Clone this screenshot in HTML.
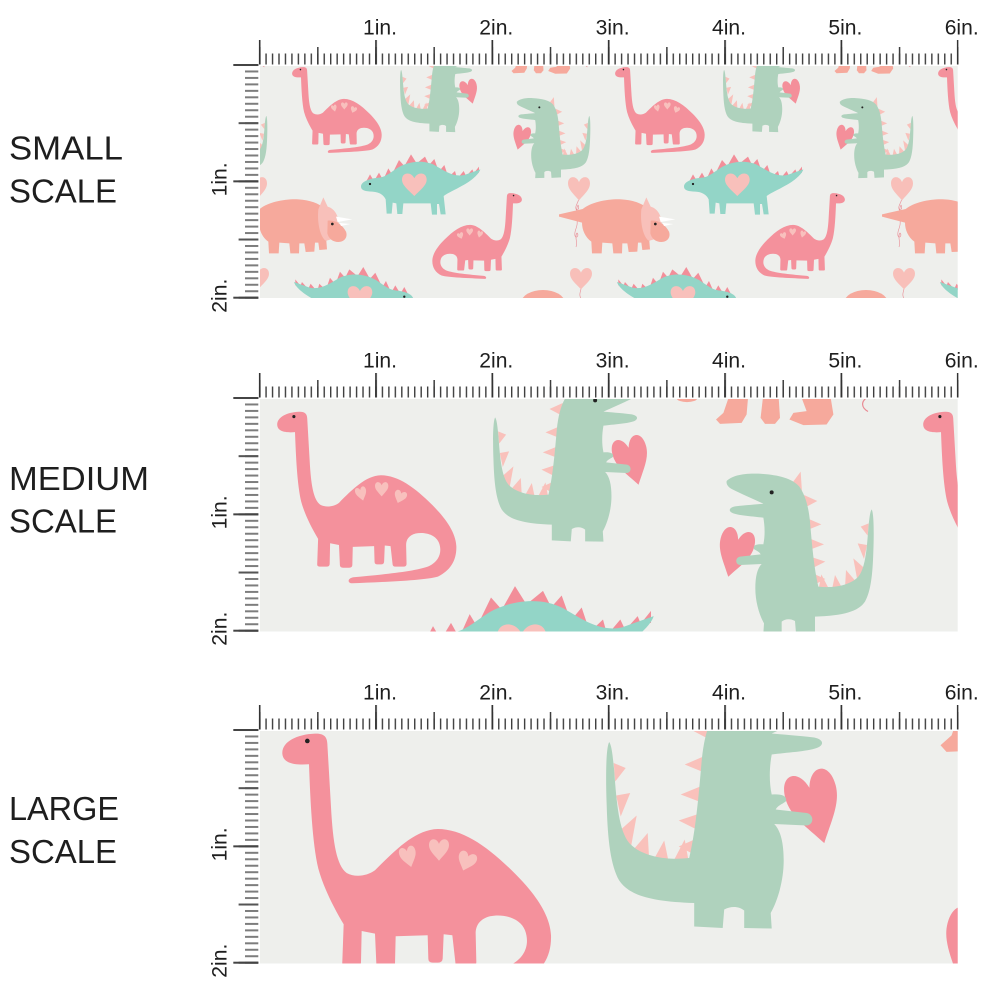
<!DOCTYPE html>
<html><head><meta charset="utf-8">
<style>
html,body{margin:0;padding:0;background:#fff;width:1000px;height:1000px;overflow:hidden;}
svg{display:block;}
text{font-family:"Liberation Sans",Arial,sans-serif;fill:#1e1e1e;}
</style></head>
<body>
<svg width="1000" height="1000" viewBox="0 0 1000 1000" xmlns="http://www.w3.org/2000/svg" overflow="hidden">
<defs>
  <path id="hp" d="M0,-0.45 C-0.25,-1 -1,-0.95 -1,-0.35 C-1,0.1 -0.5,0.45 0,0.95 C0.5,0.45 1,0.1 1,-0.35 C1,-0.95 0.25,-1 0,-0.45Z"/>

  <g id="bronto">
    <g transform="translate(283,56) scale(0.111111)">
      <path fill="#f4919c" d="M82,160 C80,125 125,102 180,100 C205,99 216,108 217,130 L228,320 C234,430 245,495 275,518 C300,532 335,528 360,510 C420,450 480,388 548,386 C625,386 700,440 780,520 C835,575 885,640 888,705 C890,770 860,815 805,842 C740,860 560,866 420,872 C398,873 396,850 425,845 C560,832 700,820 765,795 C812,772 825,730 810,690 C795,652 745,640 705,648 C675,656 662,675 662,700 L664,785 Q664,797 650,797 L614,797 Q601,797 601,785 L592,705 L566,702 L563,775 Q562,787 549,787 L533,787 Q520,787 520,775 L518,705 L422,708 L420,790 Q420,802 406,802 L378,802 Q364,802 364,790 L360,700 L320,692 L318,785 Q318,797 304,797 L274,797 Q260,797 262,783 L266,672 C235,620 205,560 190,505 C172,430 166,300 162,192 C120,195 84,190 82,160Z"/>
      <use href="#hp" fill="#f8c0bd" transform="translate(460,468) rotate(-15) scale(25,35)"/>
      <use href="#hp" fill="#f8c0bd" transform="translate(552,447) scale(30,36)"/>
      <use href="#hp" fill="#f8c0bd" transform="translate(635,482) rotate(20) scale(28,32)"/>
      <circle cx="157" cy="122" r="7" fill="#222"/>
    </g>
  </g>

  <g id="trexheart">
    <g transform="translate(453.5,58.75) scale(0.166667)">
      <use href="#hp" fill="#f48f9a" transform="translate(405,470) rotate(15) scale(52,82)"/>
    </g>
  </g>

  <g id="trex">
    <g transform="translate(453.5,58.75) scale(0.166667)">
      <use href="#hp" fill="#f48f9a" transform="translate(405,470) rotate(15) scale(52,82)"/>
      <g fill="#f9c1bb">
        <path d="M578,262 L602,230 L606,292Z"/>
        <path d="M612,300 L652,318 L618,336Z"/>
        <path d="M622,370 L664,388 L625,404Z"/>
        <path d="M628,430 L672,448 L630,464Z"/>
        <path d="M634,486 L676,500 L636,520Z"/>
        <path d="M640,536 L676,552 L645,568Z"/>
        <path d="M655,588 L664,538 L690,588Z"/>
        <path d="M695,588 L705,540 L728,582Z"/>
        <path d="M735,580 L738,525 L770,562Z"/>
        <path d="M772,556 L760,490 L796,522Z"/>
        <path d="M792,492 L773,445 L801,450Z"/>
        <path d="M803,422 L782,395 L806,385Z"/>
      </g>
      <path fill="#afd2bd" d="M380,258 C395,242 430,234 475,236 C530,239 575,248 598,275 C615,300 625,330 630,380 C636,450 642,520 655,575 C700,580 750,572 775,545 C795,520 800,470 805,400 C808,370 810,350 815,343 C822,355 822,420 820,470 C818,540 812,590 795,620 C775,650 730,662 645,665 L645,712 L588,715 L585,678 C570,670 555,672 545,680 L545,715 L490,716 L492,685 C478,660 466,620 466,580 C466,545 472,520 485,507 L420,510 C405,508 405,488 420,485 L482,478 C478,470 470,468 462,462 C458,452 468,446 490,448 C496,420 494,390 490,368 C460,364 420,362 400,355 C385,350 385,338 405,334 C440,330 470,328 490,326 C460,312 420,295 395,282 C383,276 378,266 380,258Z"/>
      <circle cx="515" cy="292" r="6" fill="#222"/>
    </g>
  </g>

  <g id="stego">
    <g transform="translate(255,60) scale(0.333333)">
      <g fill="#f28e99">
        <path d="M335,362 L345,343 L355,360Z"/>
        <path d="M360,358 L372,338 L382,356Z"/>
        <path d="M388,352 L400,325 L412,345Z"/>
        <path d="M415,335 L432,300 L448,318Z"/>
        <path d="M450,315 L468,283 L485,310Z"/>
        <path d="M488,308 L510,290 L520,310Z"/>
        <path d="M522,315 L538,297 L548,325Z"/>
        <path d="M553,333 L568,315 L578,345Z"/>
        <path d="M582,350 L600,333 L606,355Z"/>
        <path d="M610,352 L626,333 L634,350Z"/>
        <path d="M636,346 L652,328 L658,343Z"/>
        <path d="M656,340 L672,320 L672,338Z"/>
      </g>
      <path fill="#93d5c7" d="M318,380 C318,366 340,356 372,353 C392,351 405,338 430,322 C460,305 505,298 540,316 C568,332 595,352 628,345 L676,328 C672,342 650,362 622,377 C600,390 580,398 566,408 L572,463 L557,463 L552,432 L546,432 L546,464 L531,464 L527,430 L445,430 L442,462 L427,462 L424,430 L413,428 L410,461 L395,461 L392,418 C385,404 372,396 352,395 C332,394 318,392 318,380Z"/>
      <use href="#hp" fill="#f8c0bb" transform="translate(478,372) scale(37,38)"/>
      <circle cx="345" cy="372" r="3.5" fill="#222"/>
    </g>
  </g>

  <g id="trike">
    <g transform="translate(255,60) scale(0.333333)">
      <path fill="#f6a99c" d="M-57,463 L14,447 C40,426 90,416 130,418 C165,420 192,430 208,445 L222,520 C222,535 214,543 214,543 L216,568 L193,570 L190,548 L180,548 L178,575 L152,576 L148,550 L133,550 L132,580 L106,580 L103,550 L73,548 L71,580 L42,580 L40,545 C22,532 12,510 12,488 L-57,470Z"/>
      <path fill="#f8c0ba" d="M190,448 L205,412 L218,440 C240,446 253,470 251,500 C249,525 236,540 212,542 C196,530 186,490 190,448Z"/>
      <path fill="#f6a99c" d="M218,482 C240,478 262,494 273,515 C279,532 268,546 250,546 C234,546 221,536 217,520Z"/>
      <path fill="#ffffff" d="M243,470 L292,478 L248,486Z"/>
      <path fill="#ffffff" d="M254,489 L286,492 L258,498Z"/>
      <circle cx="232" cy="492" r="4" fill="#222"/>
    </g>
  </g>

  <g id="feet">
    <g fill="#f6a99c">
      <path d="M518.5,58 L527.7,58 L526.8,68.5 L524.3,72.7 L513.5,73.2 L511.5,71 L515.2,67.7Z"/>
      <path d="M535.2,58 L542.7,58 L543.5,70.2 L541,73.2 L536,73.2 L533.8,70.2Z"/>
      <path d="M553.5,58 L568.5,58 L570.2,68.5 L566.8,73.5 L555.2,73.8 L548.2,71 L550.2,67.7 L556.8,66.8Z"/>
      <ellipse cx="497" cy="60.5" rx="5" ry="1.8"/>
    </g>
    <path d="M587,60 C584,62 584,65 587.5,67" fill="none" stroke="#e98a93" stroke-width="0.6"/>
  </g>

  <g id="tile">
    <use href="#trike"/>
    <use href="#stego"/>
    <use href="#stego" transform="translate(774.3,112.7) scale(-1,1)"/>
    <use href="#bronto"/>
    <use href="#bronto" transform="translate(814,126) scale(-1,1)"/>
    <use href="#trex"/>
    <use href="#trex" transform="translate(990.4,-46) scale(-1,1)"/>
    <path d="M578.5,200 C577,205 575,206 576,209 C577,212 580,208 578,205 C575,210 578,218 577,225 C576,230 574,232 575,236 C577,239 579,235 577,233 C574,236 578,242 576,247" fill="none" stroke="#e98a93" stroke-width="0.6"/>
    <use href="#hp" fill="#f8bfb9" transform="translate(579,188) scale(11,13)"/>
    <path d="M581,289 C580,293 579,295 581,299" fill="none" stroke="#e98a93" stroke-width="0.6"/>
    <use href="#hp" fill="#f8bfb9" transform="translate(581,278) scale(11,12)"/>
    <ellipse cx="543" cy="303" rx="22" ry="13" fill="#f6a99c"/>
    <use href="#feet"/>
  </g>

  <g id="tileL">
    <use href="#bronto"/>
    <use href="#trexheart"/>
    <use href="#trex" transform="translate(990.4,-46) scale(-1,1)"/>
    <use href="#feet"/>
  </g>

  <clipPath id="cs"><rect x="260" y="66" width="697.7" height="232"/></clipPath>
  <clipPath id="cm"><rect x="260" y="399" width="697.7" height="232.5"/></clipPath>
  <clipPath id="cl"><rect x="260" y="731" width="697.7" height="232.5"/></clipPath>

  <pattern id="tk" patternUnits="userSpaceOnUse" x="-0.7" y="-30" width="6.4639" height="30"><rect width="1.4" height="30" fill="#3d3d3d"/></pattern>
  <pattern id="th" patternUnits="userSpaceOnUse" x="-0.7" y="-30" width="58.175" height="30"><rect width="1.5" height="30" fill="#3d3d3d"/></pattern>
  <pattern id="ti" patternUnits="userSpaceOnUse" x="-0.8" y="-30" width="116.35" height="30"><rect width="1.7" height="30" fill="#333"/></pattern>
  <pattern id="lk" patternUnits="userSpaceOnUse" x="-30" y="-1" width="30" height="6.4639"><rect width="30" height="2" fill="#7d7d7d"/></pattern>
  <pattern id="lh" patternUnits="userSpaceOnUse" x="-30" y="-1" width="30" height="58.175"><rect width="30" height="2" fill="#555"/></pattern>
  <pattern id="li" patternUnits="userSpaceOnUse" x="-30" y="-1" width="30" height="116.35"><rect width="30" height="2" fill="#444"/></pattern>

  <g id="ruler">
    <rect x="-0.7" y="-11.5" width="699.5" height="11" fill="url(#tk)"/>
    <rect x="-0.7" y="-18" width="699.5" height="17.5" fill="url(#th)"/>
    <rect x="-0.8" y="-25" width="699.6" height="24.5" fill="url(#ti)"/>
    <rect x="-14.6" y="-1" width="13.3" height="235" fill="url(#lk)"/>
    <rect x="-21" y="-1" width="19.7" height="235" fill="url(#lh)"/>
    <rect x="-26.3" y="-1" width="25" height="235" fill="url(#li)"/>
    <g font-size="21">
      <text x="103.4" y="-30.5" textLength="34" lengthAdjust="spacingAndGlyphs">1in.</text>
      <text x="219.7" y="-30.5" textLength="34" lengthAdjust="spacingAndGlyphs">2in.</text>
      <text x="336" y="-30.5" textLength="34" lengthAdjust="spacingAndGlyphs">3in.</text>
      <text x="452.4" y="-30.5" textLength="34" lengthAdjust="spacingAndGlyphs">4in.</text>
      <text x="568.8" y="-30.5" textLength="34" lengthAdjust="spacingAndGlyphs">5in.</text>
      <text x="685.1" y="-30.5" textLength="34" lengthAdjust="spacingAndGlyphs">6in.</text>
      <text transform="translate(-33,131.4) rotate(-90)" textLength="34" lengthAdjust="spacingAndGlyphs">1in.</text>
      <text transform="translate(-33,247.7) rotate(-90)" textLength="34" lengthAdjust="spacingAndGlyphs">2in.</text>
    </g>
  </g>
</defs>

<rect width="1000" height="1000" fill="#ffffff"/>

<g font-size="33">
  <text x="9" y="159.5" textLength="114" lengthAdjust="spacingAndGlyphs">SMALL</text>
  <text x="9" y="202.5" textLength="108" lengthAdjust="spacingAndGlyphs">SCALE</text>
  <text x="9" y="490" textLength="140" lengthAdjust="spacingAndGlyphs">MEDIUM</text>
  <text x="9" y="532.5" textLength="108" lengthAdjust="spacingAndGlyphs">SCALE</text>
  <text x="9" y="820" textLength="110" lengthAdjust="spacingAndGlyphs">LARGE</text>
  <text x="9" y="863" textLength="108" lengthAdjust="spacingAndGlyphs">SCALE</text>
</g>

<g clip-path="url(#cs)">
  <rect x="260" y="66" width="698" height="232" fill="#eeefec"/>
  <use href="#tile" transform="translate(-323,0)"/>
  <use href="#tile"/>
  <use href="#tile" transform="translate(323,0)"/>
  <use href="#tile" transform="translate(646,0)"/>
</g>
<use href="#ruler" transform="translate(259.6,65)"/>

<g clip-path="url(#cm)">
  <rect x="260" y="399" width="698" height="233" fill="#eeefec"/>
  <g transform="translate(-307,277.5) scale(2)">
    <use href="#tile"/>
    <use href="#tile" transform="translate(323,0)"/>
  </g>
</g>
<use href="#ruler" transform="translate(259.6,398)"/>

<g clip-path="url(#cl)">
  <rect x="260" y="731" width="698" height="233" fill="#eeefec"/>
  <g transform="translate(-594,532.3) scale(3)">
    <use href="#tileL"/>
  </g>
</g>
<use href="#ruler" transform="translate(259.6,730)"/>
</svg>
</body></html>
